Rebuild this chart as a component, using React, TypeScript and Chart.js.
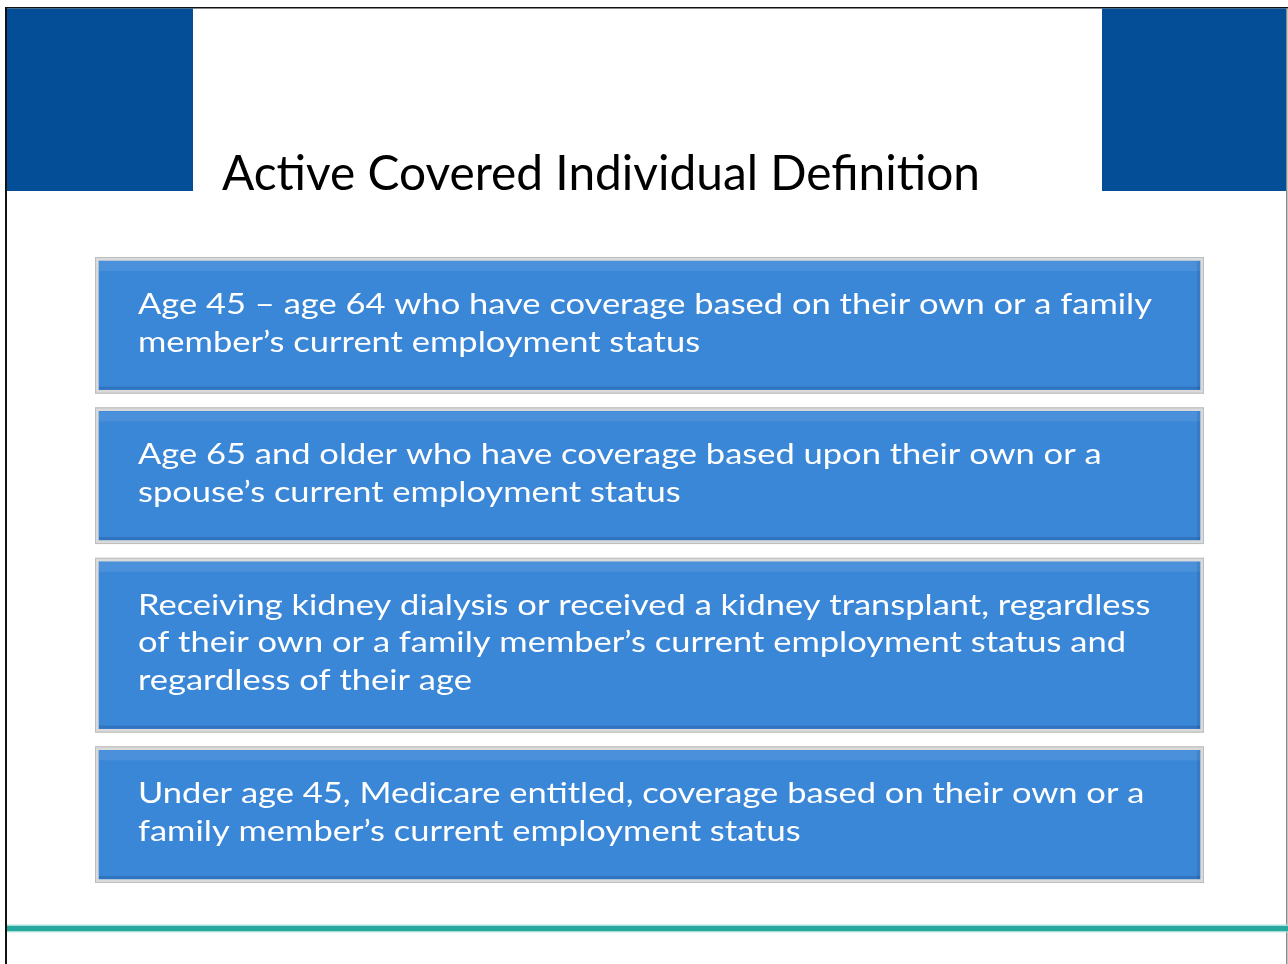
import React, { useEffect, useRef } from "react";
import { Chart, registerables } from "chart.js";
Chart.register(...registerables);

const titleText = "Active Covered Individual Definition";
const boxCategories = ["Active Covered Individual"];
const box1Lines = [
  "Age 45 – age 64 who have coverage based on their own or a family",
  "member’s current employment status",
];
const box2Lines = [
  "Age 65 and older who have coverage based upon their own or a",
  "spouse’s current employment status",
];
const box3Lines = [
  "Receiving kidney dialysis or received a kidney transplant, regardless",
  "of their own or a family member’s current employment status and",
  "regardless of their age",
];
const box4Lines = [
  "Under age 45, Medicare entitled, coverage based on their own or a",
  "family member’s current employment status",
];
const boxTexts = [box1Lines, box2Lines, box3Lines, box4Lines];

const PAD_UNITS = 1.58;
const GAP_UNITS = 0.36;

function buildSpans(): [number, number][] {
  const spans: [number, number][] = [];
  let cursor = 0;
  boxTexts.forEach((lines) => {
    const h = lines.length + PAD_UNITS;
    spans.push([cursor, cursor + h]);
    cursor += h + GAP_UNITS;
  });
  return spans;
}

const W = 1288;
const H = 964;
const BODY_FONT = "Lato, 'Open Sans', sans-serif";

const slidePlugin = {
  id: "slideDecor",
  beforeDraw(chart: any) {
    const ctx = chart.ctx as CanvasRenderingContext2D;
    ctx.save();
    ctx.fillStyle = "#ffffff";
    ctx.fillRect(0, 0, W, H);
    // frame
    ctx.fillStyle = "#111111";
    ctx.fillRect(5, 7, 2, H - 7);
    ctx.fillRect(5, 7, W - 5, 1.5);
    ctx.fillStyle = "#8a8a8a";
    ctx.fillRect(1286, 8, 1.5, H - 8);
    // header blocks
    ctx.fillStyle = "#034E96";
    ctx.fillRect(7, 8.5, 186, 182.5);
    ctx.fillRect(1102, 8.5, 184, 182.5);
    // title
    ctx.fillStyle = "#000000";
    ctx.font = `48px ${BODY_FONT}`;
    ctx.textBaseline = "alphabetic";
    const tw = ctx.measureText(titleText).width;
    const sx = 758 / tw;
    ctx.translate(222, 190);
    ctx.scale(sx, 1);
    ctx.fillText(titleText, 0, 0);
    ctx.setTransform(1, 0, 0, 1, 0, 0);
    // teal footer line
    ctx.fillStyle = "#A8E0DB";
    ctx.fillRect(7, 924.5, W - 7, 1.5);
    ctx.fillStyle = "#27A99F";
    ctx.fillRect(7, 926, W - 7, 5.5);
    ctx.fillStyle = "#BFE8E4";
    ctx.fillRect(7, 931.5, W - 7, 1);
    ctx.restore();
  },
  afterDatasetsDraw(chart: any) {
    const ctx = chart.ctx as CanvasRenderingContext2D;
    ctx.save();
    ctx.font = `28px ${BODY_FONT}`;
    const refW = ctx.measureText(box1Lines[0]).width;
    const sx = 1014 / refW;
    chart.data.datasets.forEach((ds: any, i: number) => {
      const el = chart.getDatasetMeta(i).data[0];
      if (!el) return;
      const p = el.getProps(["x", "y", "base", "width"], true);
      const left = p.x - p.width / 2;
      const right = p.x + p.width / 2;
      const top = Math.min(p.y, p.base);
      const bottom = Math.max(p.y, p.base);
      const w = right - left;
      // outer outline
      ctx.strokeStyle = "#BDBDBD";
      ctx.lineWidth = 1;
      ctx.strokeRect(left + 0.5, top + 0.5, w - 1, bottom - top - 1);
      // top light band and bottom shade
      ctx.fillStyle = "rgba(255,255,255,0.09)";
      ctx.fillRect(left + 4, top + 4, w - 8, 10);
      ctx.fillStyle = "rgba(0,20,60,0.16)";
      ctx.fillRect(left + 4, bottom - 7, w - 8, 3);
      ctx.fillStyle = "rgba(0,20,60,0.10)";
      ctx.fillRect(right - 7, top + 4, 3, bottom - top - 8);
      // text
      ctx.fillStyle = "#ffffff";
      ctx.textBaseline = "alphabetic";
      const lines: string[] = boxTexts[i];
      lines.forEach((line, k) => {
        ctx.setTransform(sx, 0, 0, 1, left + 43, top + 57 + k * 37.5);
        ctx.fillText(line, 0, 0);
      });
      ctx.setTransform(1, 0, 0, 1, 0, 0);
    });
    ctx.restore();
  },
};

export default function App() {
  const ref = useRef<HTMLCanvasElement | null>(null);
  useEffect(() => {
    if (!ref.current) return;
    const spans = buildSpans();
    const total = spans[spans.length - 1][1];
    const chart = new Chart(ref.current, {
      type: "bar",
      data: {
        labels: boxCategories,
        datasets: boxTexts.map((lines, i) => ({
          label: lines[0],
          data: [spans[i]] as any,
          backgroundColor: "#3A86D7",
          borderColor: "#DADADA",
          borderWidth: 4,
          borderSkipped: false,
          grouped: false,
          categoryPercentage: 1,
          barPercentage: 1,
        })),
      },
      options: {
        responsive: false,
        animation: false,
        layout: { padding: { left: 95, right: 84, top: 257, bottom: 81 } },
        plugins: { legend: { display: false }, tooltip: { enabled: false } },
        scales: {
          x: { display: false, grid: { display: false } },
          y: { display: false, reverse: true, min: 0, max: total, grid: { display: false } },
        },
      },
      plugins: [slidePlugin],
    });
    return () => chart.destroy();
  }, []);
  return (
    <canvas
      ref={ref}
      width={W}
      height={H}
      style={{ position: "fixed", left: 0, top: 0, width: W, height: H }}
    />
  );
}
